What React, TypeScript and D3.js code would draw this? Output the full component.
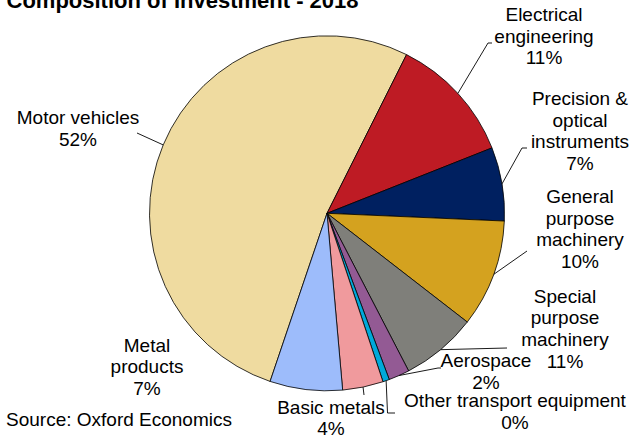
import * as d3 from 'd3';

// data (slice sizes; printed labels kept as shown)
const categories = [
  'Motor vehicles',
  'Electrical\nengineering',
  'Precision &\noptical\ninstruments',
  'General\npurpose\nmachinery',
  'Special\npurpose\nmachinery',
  'Aerospace',
  'Other transport equipment',
  'Basic metals',
  'Metal\nproducts',
];
const shares = [52.2, 11.6, 6.7, 9.8, 6.9, 1.9, 0.6, 3.7, 6.6];
const pctLabels = ['52%', '11%', '7%', '10%', '11%', '2%', '0%', '4%', '7%'];

const palette = ['#EFDBA0', '#BE1B24', '#002060', '#D4A21F', '#7F7F7A', '#935A94', '#00A9DA', '#F09A9D', '#9DBCFB'];

// label layout: centre x, first baseline y, leader bend points
const labelLayout: { x: number; y: number; leader: [number, number][] }[] = [
  { x: 78, y: 124.3, leader: [[137, 133]] },
  { x: 544, y: 21, leader: [[488, 43], [492, 43]] },
  { x: 580, y: 105, leader: [[522, 148], [527, 148]] },
  { x: 580, y: 203, leader: [[527, 251]] },
  { x: 565, y: 302.5, leader: [[507, 348]] },
  { x: 486, y: 367, leader: [[438, 368], [441, 368]] },
  { x: 515, y: 407.3, leader: [[387.5, 413], [395, 413]] },
  { x: 331, y: 413.5, leader: [[364, 395]] },
  { x: 147, y: 351.7, leader: [] },
];

const W = 630;
const H = 441;
const CX = 327;
const CY = 213.3;
const R = 177.5;
const LINE_H = 21.7;
const FONT = '"Liberation Sans", Arial, sans-serif';

export default function App() {
  const pie = d3.pie<number>()
    .sort(null)
    .value(d => d)
    .startAngle((198.7 * Math.PI) / 180)
    .endAngle((198.7 * Math.PI) / 180 + 2 * Math.PI);
  const arcs = pie(shares);

  const arc = d3.arc<d3.PieArcDatum<number>>().innerRadius(0).outerRadius(R);
  const edge = d3.arc<d3.PieArcDatum<number>>().innerRadius(R).outerRadius(R);
  const line = d3.line();

  return (
    <div style={{ position: 'absolute', left: 0, top: 0, width: W, height: H, background: '#fff' }}>
      <svg width={W} height={H} style={{ display: 'block' }} fontFamily={FONT}>
        <text x={6.5} y={7.5} fontSize={22} fontWeight="bold" fill="#000">
          Composition of Investment - 2018
        </text>

        <g transform={`translate(${CX},${CY})`}>
          {arcs.map((a, i) => (
            <path key={i} d={arc(a) || ''} fill={palette[i]} stroke="#000" strokeWidth={0.8} strokeLinejoin="round" />
          ))}
        </g>

        {/* leader lines */}
        {arcs.map((a, i) => {
          const pts = labelLayout[i].leader;
          if (!pts.length) return null;
          const [ex, ey] = edge.centroid(a);
          const path = line([[CX + ex, CY + ey], ...pts]);
          return <path key={i} d={path || ''} fill="none" stroke="#000" strokeWidth={0.9} />;
        })}

        {/* labels */}
        {categories.map((c, i) => {
          const lines = [...c.split('\n'), pctLabels[i]];
          const L = labelLayout[i];
          return (
            <text key={i} x={L.x} y={L.y} fontSize={19} textAnchor="middle" fill="#000">
              {lines.map((t, j) => (
                <tspan key={j} x={L.x} y={L.y + j * LINE_H}>{t}</tspan>
              ))}
            </text>
          );
        })}

        <text x={6} y={426} fontSize={19} fill="#000">Source: Oxford Economics</text>
      </svg>
    </div>
  );
}
